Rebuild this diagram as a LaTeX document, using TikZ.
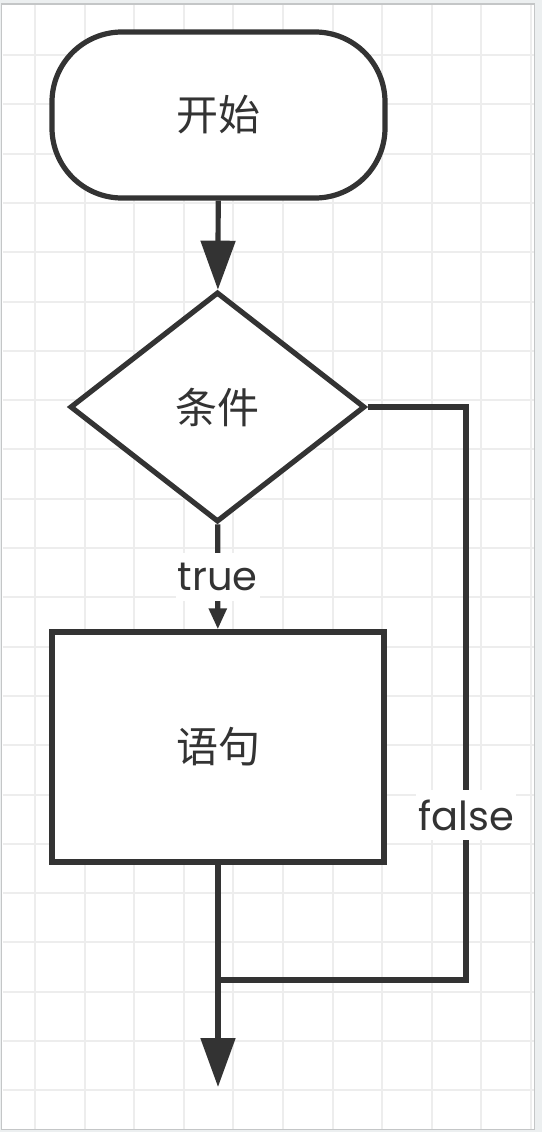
\documentclass[tikz,border=0pt]{standalone}
\usepackage{fontspec}
\setmainfont{Poppins}
\newfontfamily\cjk{Noto Sans CJK SC}
\usetikzlibrary{arrows.meta, shapes.geometric}
\definecolor{ink}{HTML}{333333}
\definecolor{gridline}{HTML}{EDEDED}
\definecolor{outside}{HTML}{ECEFF0}
\definecolor{frameline}{HTML}{C4C6C7}

\begin{document}
\begin{tikzpicture}[x=1pt,y=-1pt,line width=5.2pt,color=ink,
  term/.style={rectangle,rounded corners=70pt,draw,fill=white,
    minimum width=333pt,minimum height=166pt,font=\cjk\fontsize{42}{50}\selectfont},
  decision/.style={diamond,aspect=1.28,draw,fill=white,inner sep=0pt,
    minimum width=295pt,minimum height=230pt,font=\cjk\fontsize{42}{50}\selectfont},
  block/.style={rectangle,draw,fill=white,
    minimum width=332pt,minimum height=230pt,font=\cjk\fontsize{42}{50}\selectfont},
  flow/.style={-{Triangle[width=34pt,length=49pt]}},
  short flow/.style={-{Triangle[width=17pt,length=21pt]}},
  branch/.style={fill=white,inner xsep=2pt,inner ysep=10pt,font=\fontsize{40}{48}\selectfont}]

  \useasboundingbox[fill=outside] (0,0) rectangle (542,1132);
  \draw[frameline,fill=white,line width=1.2pt] (1.5,4) rectangle (534.5,1129.5);
  \foreach \i in {0,...,10}
    \draw[gridline,line width=2pt] (35+49.6*\i,5) -- (35+49.6*\i,1128.5);
  \foreach \j in {0,...,21}
    \draw[gridline,line width=2pt] (2.5,55+49.3*\j) -- (533.5,55+49.3*\j);

  \node[term] (start) at (218.5,115) {开始};
  \node[decision] (cond) at (217.5,407) {条件};
  \node[block] (body) at (218,747) {语句};
  \coordinate (join) at (218,980);
  \coordinate (turn) at (466,980);
  \coordinate (stop) at (218,1087);

  \draw[flow] (start) -- (cond);
  \draw[short flow] (cond) -- node[branch] {true} (body);
  \draw (cond.east) -| node[branch,pos=0.856] {false} (turn) -- (join);
  \draw[flow] (body) -- (stop);
\end{tikzpicture}
\end{document}
